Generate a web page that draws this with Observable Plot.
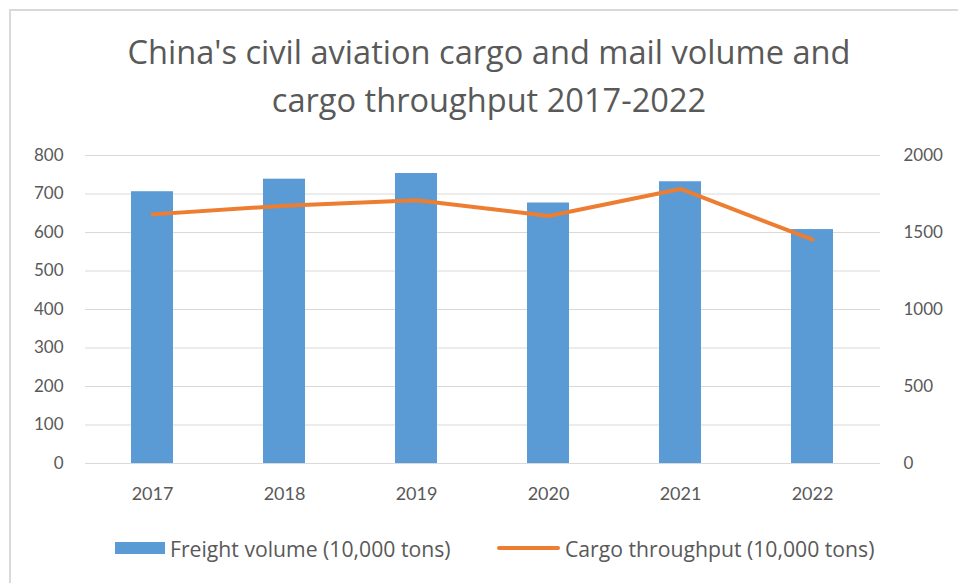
<!DOCTYPE html>
<html>
<head>
<meta charset="utf-8">
<script src="https://cdn.jsdelivr.net/npm/d3@7"></script>
<script src="https://cdn.jsdelivr.net/npm/@observablehq/plot@0.6"></script>
<style>
  html, body { margin: 0; padding: 0; background: #fff; }
  #wrap { position: relative; width: 958px; height: 583px; overflow: hidden; background: #fff; font-family: Lato, "Open Sans", sans-serif; }
  #frame { position: absolute; left: 9px; top: 9px; width: 980px; height: 600px; border: 2px solid #d9d9d9; box-sizing: border-box; }
  #title { position: absolute; left: 0; top: 28px; width: 978px; text-align: center; font-family: "Open Sans", sans-serif; font-size: 32.6px; line-height: 48px; color: #595959; }
  #chart { position: absolute; left: 0; top: 140px; }
  #legend { position: absolute; left: 0; top: 534px; width: 958px; height: 28px; font-family: "Open Sans", sans-serif; font-size: 21.2px; color: #595959; }
  .li { position: absolute; top: 0; display: flex; align-items: center; height: 28px; white-space: nowrap; }
  .sw-bar { width: 50px; height: 12px; background: #5B9BD5; margin-right: 5px; }
  .sw-line { width: 63px; height: 4px; background: #ED7D31; margin-right: 5px; border-radius: 2px; }
</style>
</head>
<body>
<div id="wrap">
  <div id="frame"></div>
  <div id="title">China's civil aviation cargo and mail volume and<br>cargo throughput 2017-2022</div>
  <div id="chart"></div>
  <div id="legend">
    <div class="li" style="left:115px"><div class="sw-bar"></div><span id="l1"></span></div>
    <div class="li" style="left:497px"><div class="sw-line"></div><span id="l2"></span></div>
  </div>
</div>
<script>
const years = ["2017", "2018", "2019", "2020", "2021", "2022"];
const freightVolume = [705.9, 738.5, 753.2, 676.6, 731.8, 607.6];
const cargoThroughput = [1617.7, 1674.0, 1710.0, 1607.5, 1782.8, 1453.1];
const leftTicks = [0, 100, 200, 300, 400, 500, 600, 700, 800];
const rightTicks = [0, 500, 1000, 1500, 2000];
const seriesNames = ["Freight volume (10,000 tons)", "Cargo throughput (10,000 tons)"];

const leftMax = 800, rightMax = 2000;
const ratio = leftMax / rightMax;

const bars = years.map((y, i) => ({year: y, value: freightVolume[i]}));
const line = years.map((y, i) => ({year: y, value: cargoThroughput[i] * ratio}));

document.getElementById("l1").textContent = seriesNames[0];
document.getElementById("l2").textContent = seriesNames[1];

const chart = Plot.plot({
  width: 958,
  height: 380,
  marginLeft: 85,
  marginRight: 78,
  marginTop: 15,
  marginBottom: 57,
  style: { fontFamily: "Lato, 'Open Sans', sans-serif", fontSize: "17px", color: "#595959", background: "transparent" },
  x: { domain: years, paddingInner: 0.68, paddingOuter: 0.34, label: null },
  y: { domain: [0, leftMax], label: null },
  marks: [
    Plot.gridY(leftTicks, { stroke: "#d9d9d9", strokeOpacity: 1, strokeWidth: 1 }),
    Plot.barY(bars, { x: "year", y: "value", fill: "#5B9BD5" }),
    Plot.line(line, { x: "year", y: "value", stroke: "#ED7D31", strokeWidth: 4, strokeLinejoin: "round", strokeLinecap: "round" }),
    Plot.axisX({ tickSize: 0, tickPadding: 24, fontSize: 18, label: null }),
    Plot.axisY({ anchor: "left", ticks: leftTicks, tickSize: 0, tickPadding: 22, label: null }),
    Plot.axisY({ anchor: "right", ticks: rightTicks.map(t => t * ratio), tickFormat: (d, i) => String(rightTicks[i]), tickSize: 0, tickPadding: 23, label: null })
  ]
});
document.getElementById("chart").appendChild(chart);
</script>
</body>
</html>
